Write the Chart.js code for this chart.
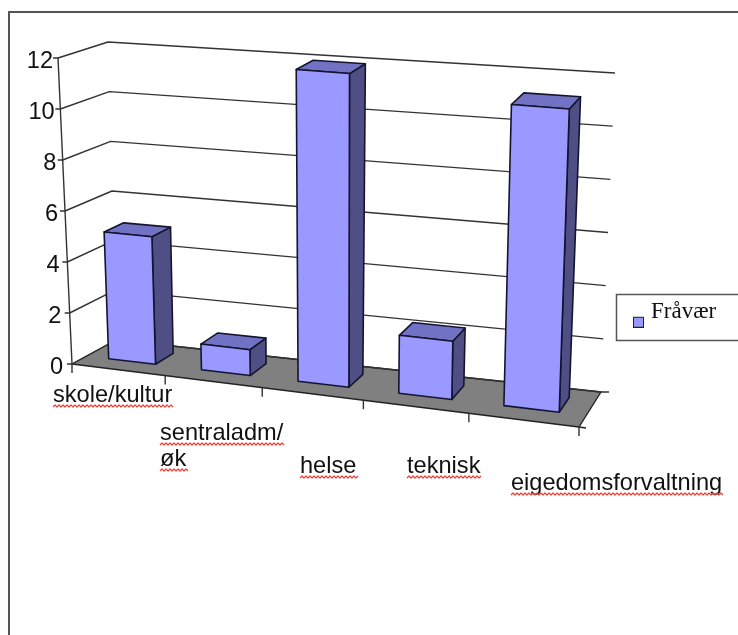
<!DOCTYPE html>
<html>
<head>
<meta charset="utf-8">
<style>
  html, body { margin: 0; padding: 0; background: #fff; overflow: hidden; }
  canvas { display: block; }
</style>
<script src="https://cdn.jsdelivr.net/npm/chart.js@4"></script>
</head>
<body>
<canvas id="chart_div" width="738" height="635"></canvas>
<script>
const categories = ['skole/kultur', ['sentraladm/', 'øk'], 'helse', 'teknisk', 'eigedomsforvaltning'];
const seriesName = 'Fråvær';
const absence = [5, 1, 12, 2.2, 11.3];
const yTicks = [0, 2, 4, 6, 8, 10, 12];

// where the old chart left its category labels: left edge and first baseline
const labelLeft = [53, 160, 300, 407, 511];
const labelBase = [402, 440, 473, 473, 490];

// corners of the 3D box on the page: F/B front/back, L/R left/right, 0/1 floor/top
const FL0 = [72, 364], FL1 = [58, 58], FR0 = [579, 427], FR1 = [590, 102];
const BL0 = [116, 340], BL1 = [108, 42], BR0 = [601, 392], BR1 = [615, 73];
const PERSPECTIVE = 0.11;
const BAR_FRONT = 0.33, BAR_BACK = 0.76;

const FRONT_COLOR = '#9999ff', TOP_COLOR = '#7272c4', SIDE_COLOR = '#4f4f85';
const AXIS_FONT = '23.6px "Liberation Sans"';

const mix = (a, b, t) => [a[0] + (b[0] - a[0]) * t, a[1] + (b[1] - a[1]) * t];

// scale pixel in the flat chart area -> page position in the 3D box
function project(chart, px, py, depth) {
    const area = chart.chartArea;
    const u = (px - area.left) / area.width;
    const h = (area.bottom - py) / area.height;
    const k = u / (1 + PERSPECTIVE * (1 - u));
    const front = mix(mix(FL0, FR0, k), mix(FL1, FR1, k), h);
    const back = mix(mix(BL0, BR0, k), mix(BL1, BR1, k), h);
    return mix(front, back, depth);
}

function poly(ctx, pts, fill) {
    ctx.beginPath();
    pts.forEach((p, i) => i ? ctx.lineTo(p[0], p[1]) : ctx.moveTo(p[0], p[1]));
    ctx.closePath();
    if (fill) {
        ctx.fillStyle = fill;
        ctx.fill();
    }
    ctx.stroke();
}

function line(ctx, pts) {
    ctx.beginPath();
    pts.forEach((p, i) => i ? ctx.lineTo(p[0], p[1]) : ctx.moveTo(p[0], p[1]));
    ctx.stroke();
}

function wavy(ctx, x0, x1, y) {
    ctx.save();
    ctx.strokeStyle = '#e8413c';
    ctx.lineWidth = 1.2;
    ctx.beginPath();
    ctx.moveTo(x0, y);
    for (let x = x0, up = true; x < x1; x += 2, up = !up) {
        ctx.lineTo(x + 2, y + (up ? -2 : 0));
    }
    ctx.stroke();
    ctx.restore();
}

const box3d = {
    id: 'box3d',
    afterLayout(chart) {
        // the legend sits in its own frame, higher than the default centre
        const legend = chart.legend;
        legend.left = 627.5;
        legend.top = 260.5;
    },
    beforeDraw(chart) {
        const ctx = chart.ctx;
        ctx.save();
        ctx.fillStyle = '#fff';
        ctx.fillRect(0, 0, chart.width, chart.height);
        ctx.strokeStyle = '#555';
        ctx.lineWidth = 2;
        line(ctx, [[9, 635], [9, 12], [738, 12]]);
        ctx.lineWidth = 1.5;
        line(ctx, [[738, 294.5], [616.5, 294.5], [616.5, 340.5], [738, 340.5]]);
        ctx.restore();
    },
    beforeDatasetsDraw(chart) {
        const ctx = chart.ctx, x = chart.scales.x, y = chart.scales.y, area = chart.chartArea;
        const zero = y.getPixelForValue(0);
        ctx.save();
        ctx.lineJoin = 'round';

        // floor
        ctx.strokeStyle = '#222';
        ctx.lineWidth = 1.4;
        poly(ctx, [project(chart, area.left, zero, 0), project(chart, area.right, zero, 0),
            project(chart, area.right, zero, 1), project(chart, area.left, zero, 1)], '#808080');
        const backEnd = project(chart, area.right, zero, 1);
        const frontEnd = project(chart, area.right, zero, 0);
        line(ctx, [backEnd, [backEnd[0] + 8, backEnd[1]]]);
        line(ctx, [frontEnd, [frontEnd[0] + 7, frontEnd[1] + 1]]);

        // walls and y axis, tick labels from the scale
        ctx.strokeStyle = '#333';
        line(ctx, [project(chart, area.left, area.top, 0), project(chart, area.left, zero, 0)]);
        ctx.font = AXIS_FONT;
        ctx.fillStyle = '#111';
        ctx.textAlign = 'right';
        ctx.textBaseline = 'middle';
        y.ticks.forEach(t => {
            const py = y.getPixelForValue(t.value);
            const p0 = project(chart, area.left, py, 0);
            const p1 = project(chart, area.left, py, 1);
            const p2 = project(chart, area.right, py, 1);
            line(ctx, [[p0[0] - 5, p0[1]], p0, p1, p2]);
            // labels hug the slanted axis a little less towards the floor
            ctx.fillText(t.label, p0[0] - 9 + (area.bottom - py) / area.height * 4, p0[1] + 3);
        });

        // x axis ticks and category labels
        const band = area.width / categories.length;
        for (let i = 0; i <= categories.length; i++) {
            const p = project(chart, area.left + i * band, zero, 0);
            line(ctx, [p, [p[0], p[1] + 9]]);
        }
        ctx.textAlign = 'left';
        ctx.textBaseline = 'alphabetic';
        x.ticks.forEach((t, i) => {
            [].concat(categories[t.value]).forEach((txt, n) => {
                const by = labelBase[i] + n * 26;
                ctx.fillText(txt, labelLeft[i], by);
                wavy(ctx, labelLeft[i], labelLeft[i] + ctx.measureText(txt).width, by + 5);
            });
        });
        ctx.restore();
    },
    beforeDatasetDraw(chart, args) {
        const ctx = chart.ctx;
        ctx.save();
        ctx.lineJoin = 'round';
        ctx.strokeStyle = '#14142e';
        ctx.lineWidth = 1.6;
        args.meta.data.forEach(bar => {
            const l = bar.x - bar.width / 2, r = bar.x + bar.width / 2;
            const P = (px, py, d) => project(chart, px, py, d);
            poly(ctx, [P(r, bar.base, BAR_FRONT), P(r, bar.base, BAR_BACK), P(r, bar.y, BAR_BACK), P(r, bar.y, BAR_FRONT)], SIDE_COLOR);
            poly(ctx, [P(l, bar.y, BAR_FRONT), P(r, bar.y, BAR_FRONT), P(r, bar.y, BAR_BACK), P(l, bar.y, BAR_BACK)], TOP_COLOR);
            poly(ctx, [P(l, bar.base, BAR_FRONT), P(r, bar.base, BAR_FRONT), P(r, bar.y, BAR_FRONT), P(l, bar.y, BAR_FRONT)], FRONT_COLOR);
        });
        ctx.restore();
        return false; // bars are drawn above, projected
    }
};

// legend swatch sits lower than its text: transparent top half of the marker
const swatch = document.createElement('canvas');
swatch.width = 11;
swatch.height = 31;
const sw = swatch.getContext('2d');
sw.fillStyle = FRONT_COLOR;
sw.strokeStyle = '#222';
sw.fillRect(0.5, 20.5, 10, 10);
sw.strokeRect(0.5, 20.5, 10, 10);

new Chart(document.getElementById('chart_div'), {
    type: 'bar',
    data: {
        labels: categories,
        datasets: [{
            label: seriesName,
            data: absence,
            backgroundColor: FRONT_COLOR,
            barPercentage: 0.51,
            categoryPercentage: 1
        }]
    },
    plugins: [box3d],
    options: {
        responsive: false,
        animation: false,
        layout: { padding: { left: 72, top: 58, bottom: 271, right: 0 } },
        plugins: {
            tooltip: { enabled: false },
            legend: {
                position: 'right',
                labels: {
                    usePointStyle: true,
                    pointStyle: swatch,
                    pointStyleWidth: 2,
                    color: '#111',
                    padding: 10,
                    font: { family: '"Liberation Serif"', size: 23 }
                }
            }
        },
        scales: {
            x: { display: false },
            y: {
                display: false,
                min: 0,
                max: 12,
                afterBuildTicks(scale) { scale.ticks = yTicks.map(v => ({ value: v, label: String(v) })); }
            }
        }
    }
});
</script>
</body>
</html>
